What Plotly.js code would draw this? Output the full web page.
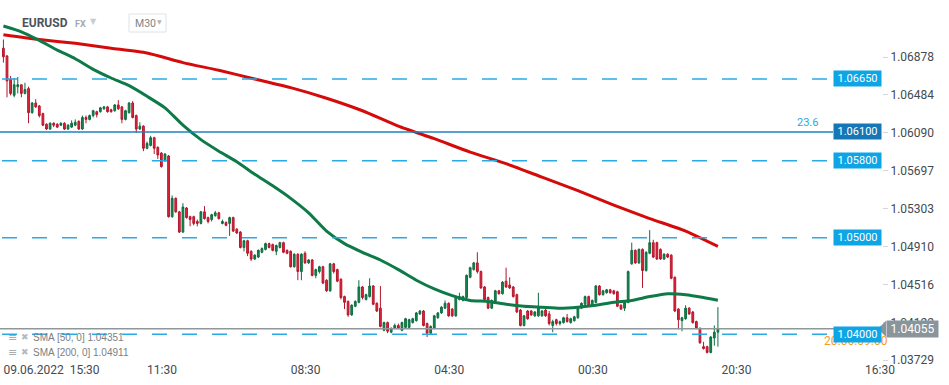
<!DOCTYPE html>
<html><head><meta charset="utf-8">
<script src="https://cdn.plot.ly/plotly-3.0.1.min.js"></script>
<style>html,body{margin:0;padding:0;background:#fff;overflow:hidden}#chart{width:949px;height:385px}</style>
</head><body><div id="chart"></div>
<script>
const openP = [1.0697,1.0689,1.0665,1.0648,1.0657,1.0659,1.0650,1.0655,1.0630,1.0640,
1.0637,1.0629,1.0618,1.0613,1.0619,1.0618,1.0617,1.0619,1.0613,1.0615,
1.0617,1.0621,1.0613,1.0625,1.0623,1.0627,1.0631,1.0631,1.0634,1.0636,
1.0633,1.0632,1.0638,1.0636,1.0623,1.0630,1.0640,1.0627,1.0613,1.0616,
1.0593,1.0596,1.0604,1.0594,1.0588,1.0580,1.0585,1.0522,1.0541,1.0527,
1.0506,1.0531,1.0522,1.0522,1.0517,1.0515,1.0527,1.0521,1.0519,1.0523,
1.0526,1.0515,1.0516,1.0515,1.0521,1.0509,1.0506,1.0490,1.0497,1.0486,
1.0478,1.0480,1.0485,1.0488,1.0494,1.0493,1.0486,1.0490,1.0495,1.0487,
1.0486,1.0470,1.0483,1.0465,1.0484,1.0474,1.0477,1.0461,1.0465,1.0470,
1.0456,1.0445,1.0473,1.0467,1.0457,1.0439,1.0434,1.0420,1.0429,1.0433,
1.0449,1.0436,1.0439,1.0450,1.0432,1.0427,1.0404,1.0412,1.0402,1.0406,
1.0409,1.0404,1.0407,1.0407,1.0412,1.0414,1.0421,1.0424,1.0411,1.0401,
1.0406,1.0417,1.0422,1.0427,1.0432,1.0426,1.0419,1.0436,1.0435,1.0438,
1.0459,1.0467,1.0474,1.0465,1.0449,1.0438,1.0427,1.0434,1.0445,1.0442,
1.0455,1.0451,1.0449,1.0441,1.0425,1.0409,1.0424,1.0424,1.0419,1.0419,
1.0419,1.0425,1.0421,1.0409,1.0415,1.0411,1.0412,1.0417,1.0412,1.0414,
1.0417,1.0427,1.0431,1.0439,1.0430,1.0433,1.0450,1.0441,1.0443,1.0446,
1.0445,1.0444,1.0430,1.0427,1.0433,1.0473,1.0487,1.0474,1.0488,1.0466,
1.0484,1.0495,1.0495,1.0488,1.0478,1.0483,1.0482,1.0459,1.0426,1.0414,
1.0416,1.0427,1.0423,1.0413,1.0406,1.0387,1.0387,1.0381,1.0396,1.0402];
const highP = [1.0706,1.0689,1.0668,1.0666,1.0667,1.0659,1.0661,1.0657,1.0641,1.0644,
1.0638,1.0630,1.0619,1.0620,1.0620,1.0619,1.0620,1.0620,1.0618,1.0622,
1.0623,1.0622,1.0627,1.0627,1.0628,1.0633,1.0632,1.0636,1.0637,1.0637,
1.0634,1.0639,1.0643,1.0637,1.0633,1.0641,1.0642,1.0628,1.0620,1.0617,
1.0600,1.0606,1.0605,1.0595,1.0589,1.0588,1.0586,1.0544,1.0542,1.0528,
1.0536,1.0532,1.0523,1.0523,1.0519,1.0528,1.0533,1.0522,1.0525,1.0528,
1.0527,1.0519,1.0517,1.0522,1.0522,1.0510,1.0507,1.0498,1.0498,1.0487,
1.0483,1.0488,1.0490,1.0495,1.0495,1.0494,1.0493,1.0496,1.0496,1.0488,
1.0487,1.0484,1.0484,1.0484,1.0486,1.0478,1.0478,1.0468,1.0471,1.0471,
1.0457,1.0474,1.0474,1.0468,1.0458,1.0440,1.0435,1.0431,1.0435,1.0456,
1.0450,1.0442,1.0458,1.0451,1.0433,1.0450,1.0413,1.0413,1.0407,1.0411,
1.0411,1.0413,1.0417,1.0416,1.0417,1.0423,1.0425,1.0425,1.0412,1.0409,
1.0420,1.0423,1.0429,1.0435,1.0433,1.0427,1.0440,1.0443,1.0440,1.0462,
1.0470,1.0475,1.0485,1.0466,1.0450,1.0439,1.0436,1.0446,1.0446,1.0455,
1.0469,1.0459,1.0450,1.0442,1.0426,1.0420,1.0425,1.0425,1.0424,1.0443,
1.0425,1.0426,1.0424,1.0415,1.0416,1.0414,1.0418,1.0421,1.0417,1.0419,
1.0428,1.0433,1.0440,1.0440,1.0436,1.0451,1.0451,1.0446,1.0447,1.0447,
1.0446,1.0445,1.0431,1.0434,1.0466,1.0495,1.0488,1.0489,1.0489,1.0486,
1.0508,1.0498,1.0496,1.0489,1.0484,1.0484,1.0483,1.0460,1.0427,1.0418,
1.0430,1.0428,1.0424,1.0414,1.0407,1.0392,1.0388,1.0398,1.0409,1.0428];
const lowP = [1.0682,1.0646,1.0648,1.0646,1.0650,1.0646,1.0649,1.0619,1.0629,1.0635,
1.0625,1.0616,1.0612,1.0612,1.0615,1.0614,1.0616,1.0612,1.0612,1.0614,
1.0616,1.0612,1.0612,1.0619,1.0622,1.0625,1.0625,1.0630,1.0633,1.0630,
1.0630,1.0631,1.0633,1.0619,1.0622,1.0629,1.0624,1.0609,1.0612,1.0590,
1.0592,1.0595,1.0587,1.0582,1.0573,1.0579,1.0521,1.0521,1.0526,1.0505,
1.0505,1.0520,1.0512,1.0513,1.0512,1.0514,1.0519,1.0515,1.0517,1.0522,
1.0519,1.0514,1.0512,1.0502,1.0506,1.0504,1.0489,1.0486,1.0481,1.0476,
1.0477,1.0479,1.0484,1.0487,1.0489,1.0486,1.0482,1.0489,1.0484,1.0483,
1.0469,1.0469,1.0456,1.0456,1.0473,1.0473,1.0460,1.0458,1.0463,1.0452,
1.0444,1.0444,1.0463,1.0454,1.0436,1.0426,1.0418,1.0419,1.0428,1.0432,
1.0436,1.0435,1.0438,1.0430,1.0423,1.0407,1.0403,1.0401,1.0401,1.0405,
1.0405,1.0403,1.0406,1.0406,1.0411,1.0413,1.0420,1.0408,1.0397,1.0400,
1.0405,1.0416,1.0421,1.0426,1.0418,1.0418,1.0418,1.0435,1.0434,1.0436,
1.0458,1.0466,1.0463,1.0447,1.0435,1.0426,1.0426,1.0433,1.0441,1.0441,
1.0448,1.0447,1.0438,1.0422,1.0408,1.0408,1.0415,1.0419,1.0418,1.0418,
1.0418,1.0418,1.0409,1.0402,1.0409,1.0409,1.0411,1.0412,1.0411,1.0413,
1.0416,1.0426,1.0430,1.0429,1.0429,1.0432,1.0440,1.0440,1.0442,1.0442,
1.0441,1.0428,1.0425,1.0424,1.0432,1.0472,1.0473,1.0473,1.0448,1.0465,
1.0483,1.0479,1.0477,1.0477,1.0477,1.0479,1.0457,1.0423,1.0405,1.0403,
1.0415,1.0420,1.0411,1.0405,1.0390,1.0384,1.0380,1.0380,1.0388,1.0387];
const closeP = [1.0688,1.0663,1.0650,1.0659,1.0659,1.0650,1.0654,1.0630,1.0640,1.0636,
1.0627,1.0617,1.0613,1.0619,1.0617,1.0615,1.0619,1.0613,1.0617,1.0619,
1.0620,1.0613,1.0625,1.0623,1.0627,1.0632,1.0628,1.0635,1.0636,1.0631,
1.0631,1.0638,1.0634,1.0623,1.0632,1.0640,1.0625,1.0613,1.0616,1.0593,
1.0598,1.0604,1.0593,1.0586,1.0574,1.0587,1.0522,1.0541,1.0527,1.0506,
1.0532,1.0521,1.0519,1.0515,1.0515,1.0527,1.0520,1.0517,1.0524,1.0526,
1.0520,1.0517,1.0513,1.0521,1.0507,1.0505,1.0490,1.0497,1.0484,1.0478,
1.0482,1.0487,1.0489,1.0494,1.0490,1.0487,1.0492,1.0495,1.0485,1.0484,
1.0470,1.0483,1.0465,1.0483,1.0474,1.0477,1.0461,1.0467,1.0470,1.0453,
1.0445,1.0473,1.0465,1.0455,1.0438,1.0433,1.0420,1.0430,1.0434,1.0449,
1.0438,1.0441,1.0450,1.0431,1.0424,1.0408,1.0412,1.0403,1.0406,1.0409,
1.0406,1.0412,1.0416,1.0415,1.0416,1.0422,1.0424,1.0409,1.0401,1.0408,
1.0419,1.0422,1.0428,1.0432,1.0419,1.0419,1.0439,1.0439,1.0439,1.0461,
1.0469,1.0474,1.0465,1.0448,1.0436,1.0427,1.0435,1.0445,1.0442,1.0454,
1.0449,1.0448,1.0439,1.0423,1.0409,1.0419,1.0416,1.0420,1.0423,1.0428,
1.0424,1.0419,1.0411,1.0413,1.0411,1.0413,1.0417,1.0413,1.0416,1.0418,
1.0427,1.0432,1.0439,1.0430,1.0435,1.0450,1.0441,1.0445,1.0446,1.0443,
1.0442,1.0429,1.0426,1.0433,1.0465,1.0487,1.0474,1.0488,1.0466,1.0485,
1.0495,1.0480,1.0478,1.0478,1.0483,1.0480,1.0458,1.0424,1.0415,1.0417,
1.0427,1.0421,1.0412,1.0406,1.0391,1.0385,1.0381,1.0397,1.0402,1.04055];

const sma50Idx = [0,5,10,15,20,25,30,35,40,45,50,55,60,65,70,75,80,85,90,95,100,105,110,115,120,125,130,135,140,145,150,155,160,165,170,175,180,185,190,195,199];
const sma50 = [1.0720,1.0714,1.0705,1.0695,1.0686,1.0675,1.0666,1.0658,1.0647,1.0635,1.0617,1.0602,1.0590,1.0579,1.0566,1.0554,1.0541,1.0526,1.0507,1.0494,1.0485,1.0477,1.0467,1.0456,1.0447,1.0440,1.0435,1.0434,1.0431,1.0429,1.0428,1.0427,1.0428,1.0430,1.0433,1.0435,1.0439,1.0442,1.0441,1.0438,1.04351];
const sma200Idx = [0,10,20,30,40,50,60,70,80,90,100,110,120,130,140,150,160,170,180,190,199];
const sma200 = [1.0711,1.0706,1.0702,1.0697,1.0692,1.0682,1.0674,1.0665,1.0656,1.0645,1.0632,1.0616,1.0603,1.0589,1.0577,1.0563,1.0549,1.0534,1.0520,1.0507,1.04911];

const timeTickIdx = [0,40,80,120,160,200,240];
const timeTickText = ['09.06.2022\u00a0\u00a015:30','11:30','08:30','04:30','00:30','20:30','16:30'];
const priceTicks = [1.06878,1.06484,1.06090,1.05697,1.05303,1.04910,1.04516,1.04122,1.03729];
const dashedLevels = [1.0665,1.0580,1.0500,1.0400];
const fibLevel = 1.0610;
const fibText = '23.6';
const lastPrice = 1.04055;
const labelLevels = [1.0665,1.0610,1.0580,1.0500,1.0400];
const labelTexts = ['1.06650','1.06100','1.05800','1.05000','1.04000'];
const smaLegend = ['SMA [50, 0] 1.04351','SMA [200, 0] 1.04911'];

const W = 882, H = 361; // plot area size in px
const px = v => v / W, py = v => 1 - v / H;
const idx = openP.map((_, i) => i);
const FONT = 'Roboto, "Open Sans", sans-serif';

const traces = [
  {type:'candlestick', x: idx, open: openP, high: highP, low: lowP, close: closeP,
   increasing:{line:{color:'#0f6d42', width:1}, fillcolor:'#15874f'},
   decreasing:{line:{color:'#b5162c', width:1}, fillcolor:'#e0263c'},
   whiskerwidth:0, hoverinfo:'skip', showlegend:false},
  {type:'scatter', mode:'lines', x: sma200Idx, y: sma200, line:{color:'#d50b0b', width:3, shape:'spline', smoothing:0.6}, hoverinfo:'skip', showlegend:false},
  {type:'scatter', mode:'lines', x: sma50Idx, y: sma50, line:{color:'#0d7a48', width:3, shape:'spline', smoothing:0.6}, hoverinfo:'skip', showlegend:false}
];

const shapes = [];
dashedLevels.forEach(l => shapes.push({type:'line', xref:'paper', yref:'y', x0:px(2), x1:px(828), y0:l, y1:l,
  line:{color:'#2aaae4', width:1.5, dash:'15px,15px'}}));
shapes.push({type:'line', xref:'paper', yref:'y', x0:0, x1:px(833), y0:fibLevel, y1:fibLevel, line:{color:'#1b82c3', width:1.5}});
shapes.push({type:'line', xref:'paper', yref:'y', x0:0, x1:px(880), y0:lastPrice, y1:lastPrice, line:{color:'#8f979b', width:1.5}});
// pointer of the last price tag
shapes.push({type:'path', xref:'paper', yref:'y', layer:'above',
  path:`M ${px(878)} ${lastPrice} L ${px(886)} ${lastPrice+0.00085} L ${px(886)} ${lastPrice-0.00085} Z`,
  fillcolor:'#8a959b', line:{width:0}});
// timeframe box
shapes.push({type:'rect', xref:'paper', yref:'paper', x0:px(129), x1:px(166), y0:py(32), y1:py(14),
  line:{color:'#dfe2e5', width:1}, fillcolor:'rgba(255,255,255,0)'});

const ann = [];
const A = o => ann.push(Object.assign({showarrow:false, font:{family:FONT}}, o));
A({xref:'paper', yref:'paper', x:px(20), y:py(23), xanchor:'left', yanchor:'middle', text:'<b>EURUSD</b>', font:{family:FONT, size:12, color:'#4d5358'}});
A({xref:'paper', yref:'paper', x:px(73), y:py(24), xanchor:'left', yanchor:'middle', text:'<b>FX</b>', font:{family:FONT, size:9, color:'#a3a9ae'}});
A({xref:'paper', yref:'paper', x:px(88), y:py(21), xanchor:'left', yanchor:'middle', text:'▼', font:{family:'DejaVu Sans', size:8, color:'#c8ccd0'}});
A({xref:'paper', yref:'paper', x:px(133), y:py(23), xanchor:'left', yanchor:'middle', text:'M30', font:{family:FONT, size:10.5, color:'#7d848a'}});
A({xref:'paper', yref:'paper', x:px(155), y:py(22), xanchor:'left', yanchor:'middle', text:'▼', font:{family:'DejaVu Sans', size:6, color:'#b0b5ba'}});

A({xref:'paper', yref:'y', x:px(795), y:fibLevel, yshift:9, xanchor:'left', yanchor:'middle', text:fibText, font:{family:FONT, size:11, color:'#2aa8e2'}});
A({xref:'paper', yref:'y', x:px(822), y:1.0400, yshift:-7, xanchor:'left', yanchor:'middle', text:'20.06.09.00', font:{family:FONT, size:12, color:'#f4a024'}});
labelLevels.forEach((l, k) => A({xref:'paper', yref:'y', x:px(833), y:l, xanchor:'left', yanchor:'middle', text:labelTexts[k],
  font:{family:FONT, size:11, color:'#ffffff'}, bgcolor: l === fibLevel ? '#1577b6' : '#0ea5e6', width:45, height:13, borderpad:1}));
A({xref:'paper', yref:'y', x:px(886), y:lastPrice, xanchor:'left', yanchor:'middle', text:lastPrice.toFixed(5),
  font:{family:FONT, size:12, color:'#ffffff'}, bgcolor:'#8a959b', width:49, height:14, borderpad:1});

smaLegend.forEach((t, k) => {
  const yy = py(337 + k * 15);
  A({xref:'paper', yref:'paper', x:px(6), y:yy, xanchor:'left', yanchor:'middle', text:'≡', font:{family:'DejaVu Sans', size:11, color:'#a8adb2'}});
  A({xref:'paper', yref:'paper', x:px(19), y:yy, xanchor:'left', yanchor:'middle', text:'✖', font:{family:'DejaVu Sans', size:9, color:'#b4b9bd'}});
  A({xref:'paper', yref:'paper', x:px(31), y:yy, xanchor:'left', yanchor:'middle', text:t, font:{family:'Liberation Sans, Arial, sans-serif', size:10, color:'#7a7f84'}});
});

const layout = {
  width:949, height:385, margin:{l:0, r:67, t:0, b:24, pad:0},
  paper_bgcolor:'#ffffff', plot_bgcolor:'#ffffff',
  font:{family:FONT},
  showlegend:false,
  xaxis:{range:[-0.95, 244.7], showgrid:false, zeroline:false, showline:false, rangeslider:{visible:false},
    tickmode:'array', tickvals:timeTickIdx, ticktext:timeTickText, ticks:'', ticklabelposition:'outside right',
    tickfont:{family:FONT, size:12, color:'#444a50'}, fixedrange:true},
  yaxis:{range:[1.03721, 1.0747], side:'right', showgrid:false, zeroline:false, showline:false,
    tickmode:'array', tickvals:priceTicks, ticktext:priceTicks.map(v => v.toFixed(5)),
    ticks:'outside', ticklen:5, tickcolor:'#d4d7da', tickfont:{family:FONT, size:12, color:'#444a50'}, fixedrange:true},
  shapes:shapes, annotations:ann
};
Plotly.newPlot('chart', traces, layout, {staticPlot:true, displayModeBar:false});
</script>
</body></html>
